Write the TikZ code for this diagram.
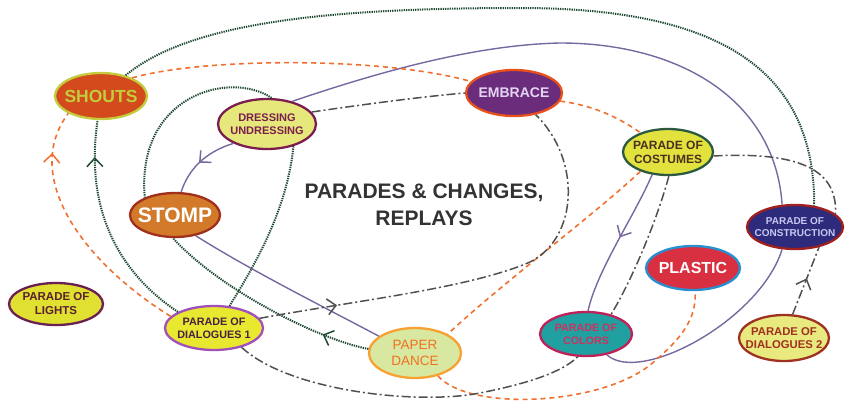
\documentclass[tikz,border=0pt]{standalone}
\usepackage{fontspec}
\setmainfont{Liberation Sans}
\usetikzlibrary{shapes.geometric,decorations.markings}

\definecolor{shoutfill}{HTML}{D34A1C}
\definecolor{shoutline}{HTML}{C2CC3C}
\definecolor{dressfill}{HTML}{E6E87C}
\definecolor{dressline}{HTML}{7B1E4E}
\definecolor{embfill}{HTML}{6B2C7C}
\definecolor{embline}{HTML}{E8501C}
\definecolor{embtext}{HTML}{E4D6F2}
\definecolor{costfill}{HTML}{E2E23E}
\definecolor{costline}{HTML}{2C5A40}
\definecolor{costtext}{HTML}{4A3020}
\definecolor{stompfill}{HTML}{D27A2A}
\definecolor{stompline}{HTML}{A0301C}
\definecolor{consfill}{HTML}{2E2A7C}
\definecolor{consline}{HTML}{A02020}
\definecolor{constext}{HTML}{C8C8F0}
\definecolor{plasfill}{HTML}{D83040}
\definecolor{plasline}{HTML}{2890D0}
\definecolor{lightfill}{HTML}{E0E030}
\definecolor{lightline}{HTML}{6A2050}
\definecolor{lighttext}{HTML}{5A2030}
\definecolor{dialfill}{HTML}{E8E830}
\definecolor{dialline}{HTML}{A050B8}
\definecolor{dialtext}{HTML}{4A2040}
\definecolor{paperfill}{HTML}{D8E8A0}
\definecolor{paperline}{HTML}{F8A030}
\definecolor{papertext}{HTML}{F07020}
\definecolor{colfill}{HTML}{20A0A0}
\definecolor{colline}{HTML}{C02058}
\definecolor{coltext}{HTML}{D03060}
\definecolor{dialtwofill}{HTML}{E8EA80}
\definecolor{dialtwoline}{HTML}{A03020}
\definecolor{dotgreen}{HTML}{1E4A32}
\definecolor{lilac}{HTML}{7868A0}
\definecolor{dashorange}{HTML}{F07030}
\definecolor{dashgray}{HTML}{505050}
\definecolor{titlegray}{HTML}{333333}

\begin{document}
\begin{tikzpicture}[x=1pt,y=-1pt,
  stage/.style={ellipse,draw,line width=2.3pt,inner xsep=-10pt,inner ysep=-4pt,align=center},
  fsz/.style 2 args={font=\bfseries\fontsize{#1}{#2}\selectfont},
  dotline/.style={draw=dotgreen,line width=2pt,dash pattern=on 1.3pt off 1pt},
  purpline/.style={draw=lilac,line width=1.4pt},
  orline/.style={draw=dashorange,line width=1.6pt,dash pattern=on 5pt off 4pt},
  grayline/.style={draw=dashgray,line width=1.5pt,dash pattern=on 9pt off 3pt on 2pt off 3pt},
  midarrow/.style={postaction={decorate},decoration={markings,
    mark=at position #1 with {\draw[solid,line width=1.5pt] (-7pt,8pt) -- (1.5pt,0pt) -- (-7pt,-8pt);}}}]
  \useasboundingbox (0,0) rectangle (850,407);

  % the stages
  \node[stage,fill=shoutfill,draw=shoutline,text=shoutline,minimum width=92,minimum height=46,fsz={17.5}{20}] (shouts) at (101,96) {SHOUTS};
  \node[stage,fill=dressfill,draw=dressline,text=dressline,minimum width=98,minimum height=50,fsz={11}{13.5}] (dress) at (267,124) {DRESSING\\UNDRESSING};
  \node[stage,fill=embfill,draw=embline,text=embtext,minimum width=96,minimum height=46,fsz={14}{16}] (embrace) at (514,93) {EMBRACE};
  \node[stage,fill=costfill,draw=costline,text=costtext,minimum width=90,minimum height=46,fsz={12}{14}] (costumes) at (668,152) {PARADE OF\\COSTUMES};
  \node[stage,fill=stompfill,draw=stompline,text=white,minimum width=90,minimum height=44,fsz={21}{24}] (stomp) at (175,215) {STOMP};
  \node[stage,fill=consfill,draw=consline,text=constext,minimum width=96,minimum height=44,fsz={10}{12.5}] (constr) at (795,227) {PARADE OF\\CONSTRUCTION};
  \node[stage,fill=plasfill,draw=plasline,text=white,minimum width=94,minimum height=44,fsz={16}{18}] (plastic) at (693,268) {PLASTIC};
  \node[stage,fill=lightfill,draw=lightline,text=lighttext,minimum width=94,minimum height=42,fsz={11.5}{14}] (lights) at (56,304) {PARADE OF\\LIGHTS};
  \node[stage,fill=dialfill,draw=dialline,text=dialtext,minimum width=98,minimum height=44,fsz={10.8}{13}] (dial1) at (214,328) {PARADE OF\\DIALOGUES 1};
  \node[stage,fill=paperfill,draw=paperline,text=papertext,minimum width=92,minimum height=50,font=\fontsize{13.5}{16}\selectfont] (paper) at (415,353) {PAPER\\DANCE};
  \node[stage,fill=colfill,draw=colline,text=coltext,minimum width=92,minimum height=44,fsz={10.7}{13}] (colors) at (586,334) {PARADE OF\\COLORS};
  \node[stage,fill=dialtwofill,draw=dialtwoline,text=dialtwoline,minimum width=90,minimum height=46,fsz={11.3}{13.5}] (dial2) at (784,338) {PARADE OF\\DIALOGUES 2};

  \node[fsz={21}{27},text=titlegray,align=center] (title) at (424,205) {PARADES \& CHANGES,\\REPLAYS};

  % green dotted links
  \draw[dotline] (shouts.40) .. controls (190,22) and (330,8) .. (520,8) .. controls (720,8) and (815,70) .. (constr.48);
  \draw[dotline,midarrow=0.2] (paper.175) .. controls (320,340) and (220,290) .. (stomp.265);
  \draw[dotline,midarrow=0.82] (dial1.156) .. controls (115,270) and (85,205) .. (shouts.262);
  \draw[dotline] (dress.80) .. controls (230,70) and (136,95) .. (stomp.150);
  \draw[dotline] (dress.320) .. controls (287,210) and (255,265) .. (dial1.55);

  % purple links
  \draw[purpline,midarrow=0.5] (dress.210) .. controls (205,152) and (188,170) .. (stomp.75);
  \draw[purpline] (dress.42) .. controls (370,75) and (470,45) .. (560,43) .. controls (680,43) and (775,100) .. (constr.120);
  \draw[purpline] (stomp.315) .. controls (250,270) and (320,305) .. (paper.155);
  \draw[purpline,midarrow=0.45] (costumes.235) .. controls (635,215) and (597,270) .. (colors.85);
  \draw[purpline] (colors.315) .. controls (640,385) and (760,320) .. (constr.240);

  % orange dashed links
  \draw[orline] (shouts.30) .. controls (200,58) and (380,56) .. (embrace.165);
  \draw[orline] (embrace.350) .. controls (590,105) and (615,115) .. (costumes.145);
  \draw[orline] (costumes.215) .. controls (600,210) and (500,285) .. (paper.30);
  \draw[orline,midarrow=0.82] (dial1.165) .. controls (80,260) and (22,175) .. (shouts.208);
  \draw[orline] (paper.315) .. controls (470,412) and (600,405) .. (650,365) .. controls (680,340) and (697,320) .. (plastic.275);

  % grey dash-dot links
  \draw[grayline] (dress.15) .. controls (380,102) and (430,96) .. (embrace.180);
  \draw[grayline,midarrow=0.17] (dial1.12) .. controls (360,300) and (470,288) .. (530,262) .. controls (578,238) and (582,160) .. (embrace.315);
  \draw[grayline] (costumes.355) .. controls (790,152) and (838,165) .. (constr.18);
  \draw[grayline] (costumes.272) .. controls (657,220) and (632,280) .. (colors.38);
  \draw[grayline,midarrow=0.5] (dial2.70) -- (constr.320);
  \draw[grayline] (dial1.325) .. controls (290,392) and (420,405) .. (480,393) .. controls (530,383) and (562,372) .. (colors.250);
\end{tikzpicture}
\end{document}
